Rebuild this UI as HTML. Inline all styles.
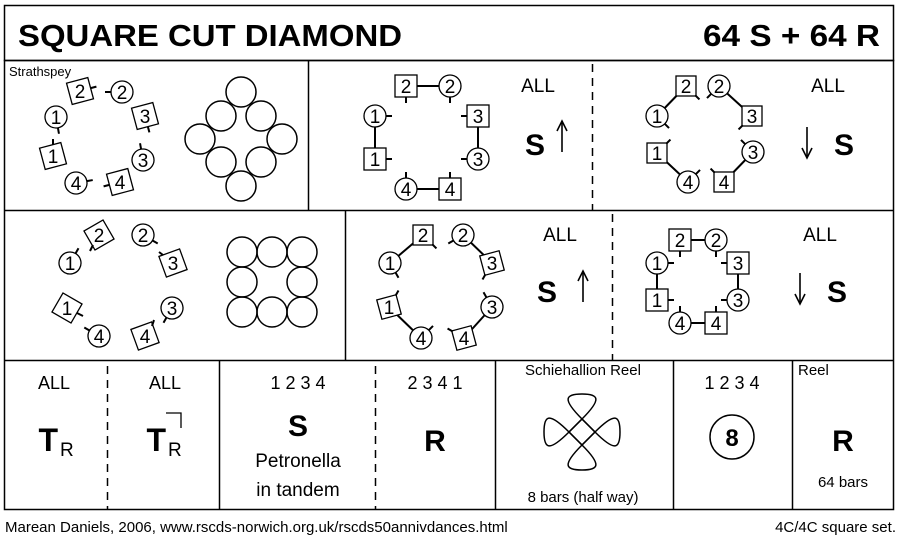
<!DOCTYPE html>
<html><head><meta charset="utf-8"><style>
html,body{margin:0;padding:0;background:#fff}
svg{display:block}
text{font-family:"Liberation Sans",sans-serif;fill:#000}
.n{font-size:19px;text-anchor:middle}
.s{fill:#fff;stroke:#000;stroke-width:1.3}
.t{stroke:#000;stroke-width:2}
.l{stroke:#000;stroke-width:2}
</style></head><body>
<svg width="900" height="542" viewBox="0 0 900 542" xmlns="http://www.w3.org/2000/svg">
<defs>
<g id="C"><circle r="11" class="s"/></g>
<g id="Q"><rect x="-11" y="-11" width="22" height="22" class="s"/></g>
<g id="D"><rect x="-10" y="-10" width="20" height="20" class="s" transform="rotate(45)"/></g>
<line id="tc" x1="11" y1="0" x2="17" y2="0" class="t"/>
<line id="tq" x1="11" y1="0" x2="17" y2="0" class="t"/>
<line id="td" x1="13" y1="0" x2="19" y2="0" class="t"/>
<g id="up"><line x1="0" y1="15" x2="0" y2="-14" stroke="#000" stroke-width="1.6"/><path d="M-5,-6 L0,-16 L5,-6" fill="none" stroke="#000" stroke-width="1.6"/></g>
</defs>
<g fill="none" stroke="#000" stroke-width="1.5">
<rect x="4.5" y="5.5" width="889" height="55"/>
<rect x="4.5" y="60.5" width="889" height="449"/>
<line x1="4" y1="210.5" x2="894" y2="210.5"/>
<line x1="4" y1="360.5" x2="894" y2="360.5"/>
<line x1="308.5" y1="61" x2="308.5" y2="210"/>
<line x1="345.5" y1="211" x2="345.5" y2="360"/>
<line x1="219.5" y1="361" x2="219.5" y2="509"/>
<line x1="495.5" y1="361" x2="495.5" y2="509"/>
<line x1="673.5" y1="361" x2="673.5" y2="509"/>
<line x1="792.5" y1="361" x2="792.5" y2="509"/>
<g stroke-dasharray="8,6">
<line x1="592.5" y1="64" x2="592.5" y2="210"/>
<line x1="612.5" y1="214" x2="612.5" y2="360"/>
<line x1="107.5" y1="366" x2="107.5" y2="509"/>
<line x1="375.5" y1="366" x2="375.5" y2="509"/>
</g>
</g>
<text x="18" y="46" font-size="31" font-weight="bold" textLength="384" lengthAdjust="spacingAndGlyphs">SQUARE CUT DIAMOND</text>
<text x="880" y="46" font-size="31" font-weight="bold" text-anchor="end" textLength="177" lengthAdjust="spacingAndGlyphs">64 S + 64 R</text>
<text x="9" y="76" font-size="13">Strathspey</text>

<!-- Panel 1 -->
<g transform="translate(80,91) rotate(-15)"><use href="#Q"/><use href="#tq"/></g><text class="n" x="80" y="98">2</text>
<g transform="translate(122,92) rotate(180)"><use href="#C"/><use href="#tc"/></g><text class="n" x="122" y="99">2</text>
<g transform="translate(145,116) rotate(-15)"><use href="#Q"/><use href="#tq" transform="rotate(90)"/></g><text class="n" x="145" y="123">3</text>
<g transform="translate(56,117) rotate(80)"><use href="#C"/><use href="#tc"/></g><text class="n" x="56" y="124">1</text>
<g transform="translate(53,156) rotate(-15)"><use href="#Q"/><use href="#tq" transform="rotate(-75)"/></g><text class="n" x="53" y="163">1</text>
<g transform="translate(143,160) rotate(-100)"><use href="#C"/><use href="#tc"/></g><text class="n" x="143" y="167">3</text>
<g transform="translate(76,183) rotate(-10)"><use href="#C"/><use href="#tc"/></g><text class="n" x="76" y="190">4</text>
<g transform="translate(120,182) rotate(-15)"><use href="#Q"/><use href="#tq" transform="rotate(180)"/></g><text class="n" x="120" y="189">4</text>
<g fill="none" stroke="#000" stroke-width="1.5">
<circle cx="241" cy="92" r="15"/><circle cx="221" cy="116" r="15"/><circle cx="261" cy="116" r="15"/>
<circle cx="200" cy="139" r="15"/><circle cx="282" cy="139" r="15"/>
<circle cx="221" cy="162" r="15"/><circle cx="261" cy="162" r="15"/><circle cx="241" cy="186" r="15"/>
</g>

<!-- Panel 2 -->
<g class="l"><line x1="406" y1="86" x2="450" y2="86"/><line x1="375" y1="116" x2="375" y2="159"/><line x1="478" y1="116" x2="478" y2="159"/><line x1="406" y1="189" x2="450" y2="189"/></g>
<g transform="translate(406,86) rotate(90)"><use href="#Q"/><use href="#tq"/></g><text class="n" x="406" y="93">2</text>
<g transform="translate(450,86) rotate(90)"><use href="#C"/><use href="#tc"/></g><text class="n" x="450" y="93">2</text>
<g transform="translate(375,116)"><use href="#C"/><use href="#tc"/></g><text class="n" x="375" y="123">1</text>
<g transform="translate(478,116) rotate(180)"><use href="#Q"/><use href="#tq"/></g><text class="n" x="478" y="123">3</text>
<g transform="translate(375,159)"><use href="#Q"/><use href="#tq"/></g><text class="n" x="375" y="166">1</text>
<g transform="translate(478,159) rotate(180)"><use href="#C"/><use href="#tc"/></g><text class="n" x="478" y="166">3</text>
<g transform="translate(406,189) rotate(-90)"><use href="#C"/><use href="#tc"/></g><text class="n" x="406" y="196">4</text>
<g transform="translate(450,189) rotate(-90)"><use href="#Q"/><use href="#tq"/></g><text class="n" x="450" y="196">4</text>
<text x="538" y="92" font-size="19" text-anchor="middle">ALL</text>
<text x="535" y="155" font-size="30" font-weight="bold" text-anchor="middle">S</text>
<use href="#up" transform="translate(562,137)"/>

<!-- Panel 3 -->
<g class="l"><line x1="686" y1="86" x2="657" y2="116"/><line x1="719" y1="86" x2="752" y2="116"/><line x1="657" y1="153" x2="688" y2="182"/><line x1="753" y1="152" x2="724" y2="182"/></g>
<g transform="translate(686,86) rotate(45)"><use href="#D"/><use href="#td"/></g><text class="n" x="686" y="93">2</text>
<g transform="translate(719,86) rotate(135)"><use href="#C"/><use href="#tc"/></g><text class="n" x="719" y="93">2</text>
<g transform="translate(657,116) rotate(45)"><use href="#C"/><use href="#tc"/></g><text class="n" x="657" y="123">1</text>
<g transform="translate(752,116) rotate(135)"><use href="#D"/><use href="#td"/></g><text class="n" x="752" y="123">3</text>
<g transform="translate(657,153) rotate(-45)"><use href="#D"/><use href="#td"/></g><text class="n" x="657" y="160">1</text>
<g transform="translate(753,152) rotate(-135)"><use href="#C"/><use href="#tc"/></g><text class="n" x="753" y="159">3</text>
<g transform="translate(688,182) rotate(-45)"><use href="#C"/><use href="#tc"/></g><text class="n" x="688" y="189">4</text>
<g transform="translate(724,182) rotate(-135)"><use href="#D"/><use href="#td"/></g><text class="n" x="724" y="189">4</text>
<text x="828" y="92" font-size="19" text-anchor="middle">ALL</text>
<use href="#up" transform="translate(807,142) rotate(180)"/>
<text x="844" y="155" font-size="30" font-weight="bold" text-anchor="middle">S</text>

<!-- Row2 panel1 -->
<g transform="translate(99,235) rotate(-30)"><use href="#Q"/></g><line x1="93" y1="245" x2="90" y2="251" class="t"/><text class="n" x="99" y="242">2</text>
<g transform="translate(70,263) rotate(-60)"><use href="#C"/><use href="#tc"/></g><text class="n" x="70" y="270">1</text>
<g transform="translate(143,235) rotate(30)"><use href="#C"/><use href="#tc"/></g><text class="n" x="143" y="242">2</text>
<g transform="translate(173,263) rotate(-20)"><use href="#Q"/></g><line x1="163" y1="255" x2="159" y2="252" class="t"/><text class="n" x="173" y="270">3</text>
<g transform="translate(67,308) rotate(30)"><use href="#Q"/></g><line x1="77" y1="313" x2="83" y2="316" class="t"/><text class="n" x="67" y="315">1</text>
<g transform="translate(99,336) rotate(-150)"><use href="#C"/><use href="#tc"/></g><text class="n" x="99" y="343">4</text>
<g transform="translate(172,308) rotate(120)"><use href="#C"/><use href="#tc"/></g><text class="n" x="172" y="315">3</text>
<g transform="translate(145,336) rotate(-20)"><use href="#Q"/></g><line x1="152" y1="326" x2="154" y2="320" class="t"/><text class="n" x="145" y="343">4</text>
<g fill="none" stroke="#000" stroke-width="1.5">
<circle cx="242" cy="252" r="15"/><circle cx="272" cy="252" r="15"/><circle cx="302" cy="252" r="15"/>
<circle cx="242" cy="282" r="15"/><circle cx="302" cy="282" r="15"/>
<circle cx="242" cy="312" r="15"/><circle cx="272" cy="312" r="15"/><circle cx="302" cy="312" r="15"/>
</g>

<!-- Row2 panel2 -->
<g class="l"><line x1="423" y1="235" x2="390" y2="263"/><line x1="463" y1="235" x2="492" y2="263"/><line x1="389" y1="307" x2="421" y2="338"/><line x1="492" y1="307" x2="464" y2="338"/></g>
<g transform="translate(423,235) rotate(45)"><use href="#D"/><use href="#td"/></g><text class="n" x="423" y="242">2</text>
<g transform="translate(463,235) rotate(150)"><use href="#C"/><use href="#tc"/></g><text class="n" x="463" y="242">2</text>
<g transform="translate(390,263) rotate(60)"><use href="#C"/><use href="#tc"/></g><text class="n" x="390" y="270">1</text>
<g transform="translate(492,263) rotate(120)"><use href="#D"/><use href="#td"/></g><text class="n" x="492" y="270">3</text>
<g transform="translate(389,307) rotate(-60)"><use href="#D"/><use href="#td"/></g><text class="n" x="389" y="314">1</text>
<g transform="translate(492,307) rotate(-120)"><use href="#C"/><use href="#tc"/></g><text class="n" x="492" y="314">3</text>
<g transform="translate(421,338) rotate(-45)"><use href="#C"/><use href="#tc"/></g><text class="n" x="421" y="345">4</text>
<g transform="translate(464,338) rotate(-150)"><use href="#D"/><use href="#td"/></g><text class="n" x="464" y="345">4</text>
<text x="560" y="241" font-size="19" text-anchor="middle">ALL</text>
<text x="547" y="302" font-size="30" font-weight="bold" text-anchor="middle">S</text>
<use href="#up" transform="translate(583,287)"/>

<!-- Row2 panel3 -->
<g class="l"><line x1="680" y1="240" x2="716" y2="240"/><line x1="657" y1="263" x2="657" y2="300"/><line x1="738" y1="263" x2="738" y2="300"/><line x1="680" y1="323" x2="716" y2="323"/></g>
<g transform="translate(680,240) rotate(90)"><use href="#Q"/><use href="#tq"/></g><text class="n" x="680" y="247">2</text>
<g transform="translate(716,240) rotate(90)"><use href="#C"/><use href="#tc"/></g><text class="n" x="716" y="247">2</text>
<g transform="translate(657,263)"><use href="#C"/><use href="#tc"/></g><text class="n" x="657" y="270">1</text>
<g transform="translate(738,263) rotate(180)"><use href="#Q"/><use href="#tq"/></g><text class="n" x="738" y="270">3</text>
<g transform="translate(657,300)"><use href="#Q"/><use href="#tq"/></g><text class="n" x="657" y="307">1</text>
<g transform="translate(738,300) rotate(180)"><use href="#C"/><use href="#tc"/></g><text class="n" x="738" y="307">3</text>
<g transform="translate(680,323) rotate(-90)"><use href="#C"/><use href="#tc"/></g><text class="n" x="680" y="330">4</text>
<g transform="translate(716,323) rotate(-90)"><use href="#Q"/><use href="#tq"/></g><text class="n" x="716" y="330">4</text>
<text x="820" y="241" font-size="19" text-anchor="middle">ALL</text>
<use href="#up" transform="translate(800,288) rotate(180)"/>
<text x="837" y="302" font-size="30" font-weight="bold" text-anchor="middle">S</text>

<!-- Row3 -->
<text x="54" y="389" font-size="18" text-anchor="middle">ALL</text>
<text x="58" y="451" font-size="32" font-weight="bold" text-anchor="end">T</text>
<text x="60" y="456" font-size="19">R</text>
<text x="165" y="389" font-size="18" text-anchor="middle">ALL</text>
<text x="166" y="451" font-size="32" font-weight="bold" text-anchor="end">T</text>
<text x="168" y="456" font-size="19">R</text>
<polyline points="166,413 181,413 181,428" fill="none" stroke="#000" stroke-width="1.3"/>
<text x="298" y="389" font-size="18" text-anchor="middle">1 2 3 4</text>
<text x="298" y="436" font-size="30" font-weight="bold" text-anchor="middle">S</text>
<text x="298" y="467" font-size="19" text-anchor="middle">Petronella</text>
<text x="298" y="496" font-size="19" text-anchor="middle">in tandem</text>
<text x="435" y="389" font-size="18" text-anchor="middle">2 3 4 1</text>
<text x="435" y="451" font-size="30" font-weight="bold" text-anchor="middle">R</text>
<text x="583" y="375" font-size="15" text-anchor="middle">Schiehallion Reel</text>
<g transform="translate(582,432)" fill="none" stroke="#000" stroke-width="1.5">
<path id="lp" d="M-13,0 L0,-13 C20,-33 17,-38 0,-38 C-17,-38 -20,-33 0,-13 L13,0"/>
<use href="#lp" transform="rotate(90)"/>
<use href="#lp" transform="rotate(180)"/>
<use href="#lp" transform="rotate(270)"/>
</g>
<text x="583" y="502" font-size="15" text-anchor="middle">8 bars (half way)</text>
<text x="732" y="389" font-size="18" text-anchor="middle">1 2 3 4</text>
<circle cx="732" cy="437" r="22" fill="none" stroke="#000" stroke-width="1.5"/>
<text x="732" y="446" font-size="24" font-weight="bold" text-anchor="middle">8</text>
<text x="798" y="375" font-size="15">Reel</text>
<text x="843" y="451" font-size="30" font-weight="bold" text-anchor="middle">R</text>
<text x="843" y="487" font-size="15" text-anchor="middle">64 bars</text>

<text x="5" y="532" font-size="15">Marean Daniels, 2006, www.rscds-norwich.org.uk/rscds50annivdances.html</text>
<text x="896" y="532" font-size="15" text-anchor="end">4C/4C  square set.</text>
</svg>
</body></html>
